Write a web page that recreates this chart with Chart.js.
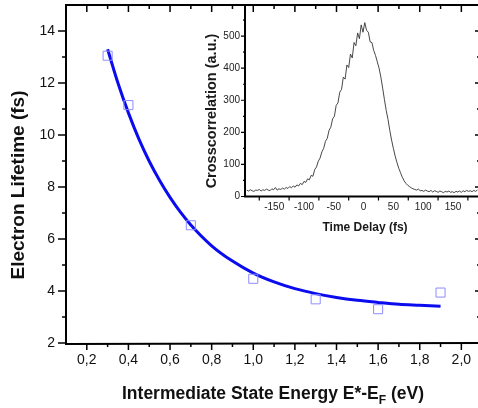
<!DOCTYPE html>
<html>
<head>
<meta charset="utf-8">
<script src="https://cdn.jsdelivr.net/npm/chart.js@4.4.1/dist/chart.umd.min.js"></script>
<style>
  html, body { margin: 0; padding: 0; background: #fff; overflow: hidden; }
  #wrap { position: relative; width: 478px; height: 408px; }
  #wrap canvas { position: absolute; left: 0; top: 0; }
</style>
</head>
<body>
<div id="wrap">
  <canvas id="main" width="478" height="408"></canvas>
  <canvas id="inset" width="478" height="408"></canvas>
</div>
<script>
// main plot: measured lifetimes and the fitted curve
const energy   = [0.3, 0.4, 0.7, 1.0, 1.3, 1.6, 1.9];
const lifetime = [13.05, 11.15, 6.53, 4.47, 3.68, 3.30, 3.94];
const fitEnergy   = [0.3, 0.35, 0.4, 0.45, 0.5, 0.55, 0.6, 0.65, 0.7, 0.8, 0.9, 1.0, 1.1, 1.2, 1.3, 1.4, 1.5, 1.6, 1.7, 1.8, 1.9];
const fitLifetime = [13.30, 11.99, 10.85, 9.85, 8.99, 8.25, 7.60, 7.03, 6.54, 5.74, 5.15, 4.69, 4.35, 4.09, 3.90, 3.75, 3.64, 3.56, 3.49, 3.45, 3.41];
const xMajor = [0.2, 0.4, 0.6, 0.8, 1.0, 1.2, 1.4, 1.6, 1.8, 2.0];
const xMinor = [0.3, 0.5, 0.7, 0.9, 1.1, 1.3, 1.5, 1.7, 1.9];
const yMajor = [2, 4, 6, 8, 10, 12, 14];
const yMinor = [3, 5, 7, 9, 11, 13];

// inset: crosscorrelation trace
const delay = [
  -196,-193,-190,-187,-184,-181,-178,-175,-172,-169,
  -166,-163,-160,-157,-154,-151,-148,-145,-142,-139,
  -136,-133,-130,-127,-124,-121,-118,-115,-112,-109,
  -106,-103,-100,-97,-94,-91,-88,-85,-82,-79,
  -76,-73,-70,-67,-64,-61,-58,-55,-52,-49,
  -46,-43,-40,-37,-34,-31,-28,-25,-22,-19,
  -16,-13,-10,-7,-4,-1,2,5,8,11,
  14,17,20,23,26,29,32,35,38,41,
  44,47,50,53,56,59,62,65,68,71,
  74,77,80,83,86,89,92,95,98,101,
  104,107,110,113,116,119,122,125,128,131,
  134,137,140,143,146,149,152,155,158,161,
  164,167,170,173,176,179,182,185,188,191
];
const xcorr = [
  20,17,21,18,16,20,19,22,17,21,
  19,23,20,18,24,21,28,20,24,22,
  26,23,28,25,31,27,33,29,36,33,
  41,37,47,44,55,52,66,63,84,92,
  110,120,139,150,172,181,206,216,242,250,
  284,292,325,334,372,366,410,402,444,432,
  480,470,510,492,535,512,542,518,512,482,
  480,455,440,420,400,372,338,302,268,240,
  206,176,150,126,106,88,74,60,49,41,
  35,31,27,24,22,20,23,18,19,16,
  20,17,15,19,14,18,16,13,17,15,
  12,16,14,17,13,15,12,16,14,17,
  13,18,15,19,16,18,15,19,16,20
];
const dMajor = [-150, -100, -50, 0, 50, 100, 150];
const dMinor = [-175, -125, -75, -25, 25, 75, 125, 175];
const cMajor = [0, 100, 200, 300, 400, 500];
const cMinor = [50, 150, 250, 350, 450, 550];

const FONT = "'Liberation Sans', Arial, sans-serif";

function marks(ctx, scale, values, horiz, pos, len) {
  ctx.beginPath();
  values.forEach(v => {
    const p = scale.getPixelForValue(v);
    if (horiz) { ctx.moveTo(p, pos); ctx.lineTo(p, pos + len); }
    else { ctx.moveTo(pos, p); ctx.lineTo(pos + len, p); }
  });
  ctx.stroke();
}

// fixed scale box, no automatic label padding
function fixBox(size, horiz) {
  return s => {
    if (horiz) s.height = size; else s.width = size;
    s.paddingTop = s.paddingBottom = s.paddingLeft = s.paddingRight = 0;
  };
}

const mainDeco = {
  id: 'mainDeco',
  afterDraw(chart) {
    const { ctx, chartArea: a, scales: { x, y } } = chart;
    ctx.save();
    ctx.strokeStyle = '#000';
    ctx.lineWidth = 2;
    ctx.beginPath();
    ctx.moveTo(a.left, a.top - 1); ctx.lineTo(a.left, a.bottom + 1);
    ctx.lineTo(a.right + 2, a.bottom);
    ctx.moveTo(a.left - 1, a.top); ctx.lineTo(a.right + 2, a.top);
    ctx.stroke();
    ctx.lineWidth = 1.5;
    marks(ctx, x, xMajor, true, a.bottom, 7);
    marks(ctx, x, xMinor, true, a.bottom, 4);
    marks(ctx, x, xMajor, true, a.top, 7);
    marks(ctx, x, xMinor, true, a.top, 4);
    marks(ctx, y, yMajor, false, a.left, -8);
    marks(ctx, y, yMinor, false, a.left, -4);
    marks(ctx, y, yMajor, false, a.right + 4, -7);
    marks(ctx, y, yMinor, false, a.right + 4, -5);

    ctx.fillStyle = '#111';
    ctx.textBaseline = 'middle';
    ctx.textAlign = 'center';
    ctx.save();
    ctx.translate(19, 185);
    ctx.rotate(-Math.PI / 2);
    ctx.font = 'bold 19px ' + FONT;
    ctx.fillText('Electron Lifetime (fs)', 0, 0);
    ctx.restore();

    // x title with subscript F
    ctx.textAlign = 'left';
    ctx.textBaseline = 'alphabetic';
    const big = 'bold 17.5px ' + FONT, small = 'bold 12px ' + FONT;
    const p1 = 'Intermediate State Energy E*-E', p2 = 'F', p3 = ' (eV)';
    ctx.font = big; const w1 = ctx.measureText(p1).width, w3 = ctx.measureText(p3).width;
    ctx.font = small; const w2 = ctx.measureText(p2).width;
    let sx = 273 - (w1 + w2 + w3) / 2;
    ctx.font = big; ctx.fillText(p1, sx, 399); sx += w1;
    ctx.font = small; ctx.fillText(p2, sx, 404); sx += w2;
    ctx.font = big; ctx.fillText(p3, sx, 399);
    ctx.restore();
  }
};

new Chart(document.getElementById('main'), {
  data: {
    datasets: [
      {
        type: 'scatter',
        data: energy.map((e, i) => ({ x: e, y: lifetime[i] })),
        pointStyle: 'rect', pointRadius: 6.4, pointBorderWidth: 1,
        borderColor: '#8c8cff', backgroundColor: 'rgba(0,0,0,0)',
      },
      {
        type: 'line',
        data: fitEnergy.map((e, i) => ({ x: e, y: fitLifetime[i] })),
        borderColor: '#0b0bf0', borderWidth: 3, pointRadius: 0,
        cubicInterpolationMode: 'monotone', fill: false,
      },
    ],
  },
  options: {
    responsive: false, animation: false, devicePixelRatio: 1,
    layout: { autoPadding: false, padding: { left: 0, top: 5, right: 0, bottom: 0 } },
    plugins: { legend: { display: false }, tooltip: { enabled: false } },
    scales: {
      x: {
        type: 'linear', min: 0.1, max: 2.08,
        afterBuildTicks: s => { s.ticks = xMajor.map(v => ({ value: v })); },
        afterFit: fixBox(65, true),
        grid: { display: false, drawTicks: false }, border: { display: false },
        ticks: { color: '#111', padding: 9, maxRotation: 0, autoSkip: false,
                 font: { family: FONT, size: 14 },
                 callback: v => v.toFixed(1).replace('.', ',') },
      },
      y: {
        type: 'linear', min: 2, max: 15,
        afterBuildTicks: s => { s.ticks = yMajor.map(v => ({ value: v })); },
        afterFit: fixBox(66, false),
        grid: { display: false, drawTicks: false }, border: { display: false },
        ticks: { color: '#111', padding: 11, autoSkip: false,
                 font: { family: FONT, size: 14 }, callback: v => String(v) },
      },
    },
  },
  plugins: [mainDeco],
});

const insetDeco = {
  id: 'insetDeco',
  afterDraw(chart) {
    const { ctx, chartArea: a, scales: { x, y } } = chart;
    ctx.save();
    ctx.strokeStyle = '#000';
    ctx.lineWidth = 2;
    ctx.beginPath();
    ctx.moveTo(a.left, a.top); ctx.lineTo(a.left, a.bottom + 1);
    ctx.moveTo(a.left - 1, a.bottom); ctx.lineTo(a.right + 2, a.bottom);
    ctx.stroke();
    ctx.lineWidth = 1.2;
    marks(ctx, x, dMinor, true, a.bottom, 4);
    marks(ctx, y, cMajor, false, a.left, -4);
    marks(ctx, y, cMinor, false, a.left, -2);

    ctx.fillStyle = '#1a1a1a';
    ctx.textAlign = 'center';
    ctx.textBaseline = 'middle';
    ctx.font = 'bold 12px ' + FONT;
    ctx.fillText('Time Delay (fs)', 365, 228);
    ctx.save();
    ctx.translate(212, 111);
    ctx.rotate(-Math.PI / 2);
    ctx.font = 'bold 14.5px ' + FONT;
    ctx.fillText('Crosscorrelation (a.u.)', 0, 0);
    ctx.restore();
    ctx.restore();
  }
};

new Chart(document.getElementById('inset'), {
  type: 'line',
  data: {
    datasets: [{
      data: delay.map((d, i) => ({ x: d, y: xcorr[i] })),
      borderColor: '#333', borderWidth: 0.9, pointRadius: 0, tension: 0, fill: false,
    }],
  },
  options: {
    responsive: false, animation: false, devicePixelRatio: 1,
    layout: { autoPadding: false, padding: { left: 205, top: 5, right: 0, bottom: 181.5 } },
    plugins: { legend: { display: false }, tooltip: { enabled: false } },
    scales: {
      x: {
        type: 'linear', min: -199, max: 192,
        afterBuildTicks: s => { s.ticks = dMajor.map(v => ({ value: v })); },
        afterFit: fixBox(30, true),
        grid: { display: false, drawTicks: false }, border: { display: false },
        ticks: { color: '#222', padding: 5, maxRotation: 0, autoSkip: false,
                 font: { family: FONT, size: 10 }, callback: v => String(v) },
      },
      y: {
        type: 'linear', min: 0, max: 597,
        afterBuildTicks: s => { s.ticks = cMajor.map(v => ({ value: v })); },
        afterFit: fixBox(40, false),
        grid: { display: false, drawTicks: false }, border: { display: false },
        ticks: { color: '#222', padding: 5, autoSkip: false,
                 font: { family: FONT, size: 10 }, callback: v => String(v) },
      },
    },
  },
  plugins: [insetDeco],
});
</script>
</body>
</html>
